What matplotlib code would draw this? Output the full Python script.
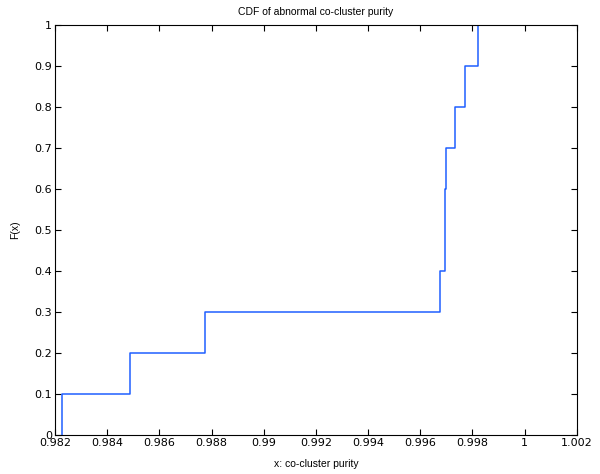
import numpy as np
import matplotlib
matplotlib.use("Agg")
import matplotlib.pyplot as plt

# Sorted sample values (co-cluster purity) read from the CDF steps
purity = [0.98228, 0.98487, 0.98775, 0.99677, 0.99695, 0.99695,
          0.99698, 0.99735, 0.99772, 0.99823]
x_ticks = [0.982, 0.984, 0.986, 0.988, 0.99, 0.992, 0.994, 0.996, 0.998, 1.0, 1.002]
x_tick_labels = ["0.982", "0.984", "0.986", "0.988", "0.99", "0.992", "0.994",
                 "0.996", "0.998", "1", "1.002"]
y_ticks = [0, 0.1, 0.2, 0.3, 0.4, 0.5, 0.6, 0.7, 0.8, 0.9, 1.0]
y_tick_labels = ["0", "0.1", "0.2", "0.3", "0.4", "0.5", "0.6", "0.7", "0.8", "0.9", "1"]

plt.rcParams['font.family'] = ['Liberation Sans', 'DejaVu Sans']
fs = 7.5
tfs = 8

fig = plt.figure(figsize=(6.0, 4.74), dpi=100)
ax = fig.add_axes([0.0917, 0.0823, 0.8695, 0.8650])

n = len(purity)
xs = np.concatenate([[purity[0]], purity])
ys = np.concatenate([[0.0], np.arange(1, n + 1) / n])
ax.step(xs, ys, where='post', color='#1f5fff', linewidth=1.1)

ax.set_xlim(0.982, 1.002)
ax.set_ylim(0, 1)
ax.set_xticks(x_ticks)
ax.set_xticklabels(x_tick_labels, fontsize=tfs, family='DejaVu Sans')
ax.set_yticks(y_ticks)
ax.set_yticklabels(y_tick_labels, fontsize=tfs, family='DejaVu Sans')
ax.tick_params(direction='in', top=True, right=True, length=4, width=0.8, pad=2)
for s in ax.spines.values():
    s.set_linewidth(0.8)

ax.set_title("CDF of abnormal co-cluster purity", fontsize=fs, pad=7)
ax.set_xlabel("x: co-cluster purity", fontsize=fs, labelpad=8)
ax.set_ylabel("F(x)", fontsize=fs, labelpad=10)

fig.savefig("out.png", dpi=100)
